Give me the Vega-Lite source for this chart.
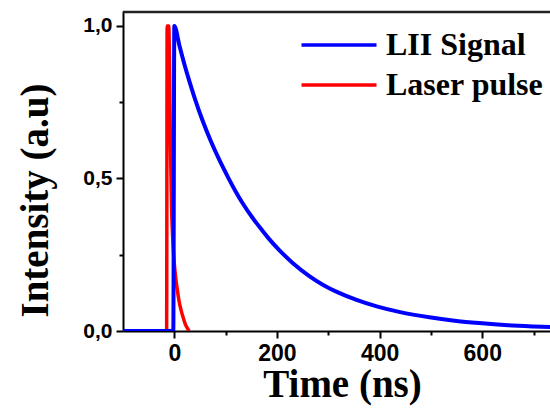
{
  "$schema": "https://vega.github.io/schema/vega-lite/v6.json",
  "width": 427,
  "height": 320,
  "autosize": {"type": "none"},
  "padding": {"left": 123, "top": 11, "right": 0, "bottom": 83},
  "background": "white",
  "config": {"view": {"stroke": null}},
  "datasets": {
    "lines": [
      {"series": "Laser pulse", "t": -25, "v": 0},
      {"series": "Laser pulse", "t": -15, "v": 0},
      {"series": "Laser pulse", "t": -14, "v": 1.0},
      {"series": "Laser pulse", "t": -11, "v": 1.0},
      {"series": "Laser pulse", "t": -7, "v": 0.55},
      {"series": "Laser pulse", "t": -5, "v": 0.38},
      {"series": "Laser pulse", "t": -3, "v": 0.3},
      {"series": "Laser pulse", "t": 0, "v": 0.22},
      {"series": "Laser pulse", "t": 3, "v": 0.17},
      {"series": "Laser pulse", "t": 5, "v": 0.145},
      {"series": "Laser pulse", "t": 9, "v": 0.1},
      {"series": "Laser pulse", "t": 13, "v": 0.069},
      {"series": "Laser pulse", "t": 18, "v": 0.04},
      {"series": "Laser pulse", "t": 22, "v": 0.02},
      {"series": "Laser pulse", "t": 25, "v": 0.01},
      {"series": "Laser pulse", "t": 29, "v": 0},
      {"series": "LII Signal", "t": -100, "v": 0},
      {"series": "LII Signal", "t": -2, "v": 0},
      {"series": "LII Signal", "t": 0, "v": 1.0},
      {"series": "LII Signal", "t": 10, "v": 0.935},
      {"series": "LII Signal", "t": 20, "v": 0.872},
      {"series": "LII Signal", "t": 30, "v": 0.815},
      {"series": "LII Signal", "t": 40, "v": 0.762},
      {"series": "LII Signal", "t": 55, "v": 0.69},
      {"series": "LII Signal", "t": 70, "v": 0.627},
      {"series": "LII Signal", "t": 88, "v": 0.56},
      {"series": "LII Signal", "t": 105, "v": 0.503},
      {"series": "LII Signal", "t": 120, "v": 0.456},
      {"series": "LII Signal", "t": 135, "v": 0.414},
      {"series": "LII Signal", "t": 152, "v": 0.372},
      {"series": "LII Signal", "t": 166, "v": 0.341},
      {"series": "LII Signal", "t": 182, "v": 0.307},
      {"series": "LII Signal", "t": 204, "v": 0.266},
      {"series": "LII Signal", "t": 230, "v": 0.224},
      {"series": "LII Signal", "t": 263, "v": 0.18},
      {"series": "LII Signal", "t": 290, "v": 0.151},
      {"series": "LII Signal", "t": 321, "v": 0.125},
      {"series": "LII Signal", "t": 355, "v": 0.102},
      {"series": "LII Signal", "t": 396, "v": 0.08},
      {"series": "LII Signal", "t": 440, "v": 0.062},
      {"series": "LII Signal", "t": 497, "v": 0.045},
      {"series": "LII Signal", "t": 550, "v": 0.033},
      {"series": "LII Signal", "t": 594, "v": 0.026},
      {"series": "LII Signal", "t": 650, "v": 0.019},
      {"series": "LII Signal", "t": 700, "v": 0.015},
      {"series": "LII Signal", "t": 750, "v": 0.012}
    ]
  },
  "data": {"name": "lines"},
  "layer": [
    {
      "transform": [{"filter": "datum.series === 'Laser pulse'"}],
      "mark": {"type": "line", "strokeWidth": 3.5, "clip": true, "interpolate": "monotone"},
      "encoding": {
        "x": {
          "field": "t", "type": "quantitative",
          "scale": {"domain": [-100, 732], "nice": false, "zero": false},
          "axis": {
            "orient": "bottom",
            "values": [0, 100, 200, 300, 400, 500, 600, 700],
            "labelExpr": "datum.value % 200 === 0 ? format(datum.value, 'd') : ''",
            "tickSize": {"condition": {"test": "datum.value % 200 !== 0", "value": 4}, "value": 7},
            "tickWidth": 2, "tickColor": "black",
            "domainWidth": 2, "domainColor": "black",
            "grid": false, "labelFlush": false, "labelOverlap": false,
            "labelFont": "Liberation Sans", "labelFontWeight": "bold", "labelFontSize": 23, "labelColor": "black",
            "labelPadding": 4,
            "title": "Time (ns)",
            "titleFont": "Liberation Serif", "titleFontWeight": "bold", "titleFontSize": 39, "titleColor": "black",
            "titlePadding": 0, "titleX": 219
          }
        },
        "y": {
          "field": "v", "type": "quantitative",
          "scale": {"domain": [0, 1.049], "nice": false},
          "axis": {
            "values": [0, 0.25, 0.5, 0.75, 1],
            "labelExpr": "(datum.value === 0.25 || datum.value === 0.75) ? '' : replace(format(datum.value, '.1f'), '.', ',')",
            "tickSize": {"condition": {"test": "datum.value === 0.25 || datum.value === 0.75", "value": 4}, "value": 7},
            "tickWidth": 2, "tickColor": "black",
            "domainWidth": 2, "domainColor": "black",
            "grid": false, "labelFlush": false, "labelOverlap": false,
            "labelFont": "Liberation Sans", "labelFontWeight": "bold", "labelFontSize": 21, "labelColor": "black",
            "labelPadding": 4,
            "title": "Intensity (a.u)",
            "titleFont": "Liberation Serif", "titleFontWeight": "bold", "titleFontSize": 39, "titleColor": "black",
            "titleAngle": -90, "titleX": -76, "titleY": 189, "titleAlign": "center", "titleBaseline": "alphabetic"
          }
        },
        "color": {
          "field": "series", "type": "nominal",
          "scale": {"domain": ["LII Signal", "Laser pulse"], "range": ["#0000ff", "#ff0000"]},
          "legend": {
            "title": null, "orient": "none", "legendX": 200, "legendY": 18,
            "symbolType": "M-10,0H10", "symbolSize": 56.25, "symbolStrokeWidth": 3.5,
            "labelFont": "Liberation Serif", "labelFontWeight": "bold", "labelFontSize": 32, "labelColor": "black",
            "labelOffset": 31, "rowPadding": 8, "padding": 0, "labelLimit": 400
          }
        }
      }
    },
    {
      "transform": [{"filter": "datum.series === 'LII Signal'"}],
      "mark": {"type": "line", "strokeWidth": 4, "clip": true, "interpolate": "monotone"},
      "encoding": {
        "x": {"field": "t", "type": "quantitative", "axis": null},
        "y": {"field": "v", "type": "quantitative", "axis": null},
        "color": {"field": "series", "type": "nominal"}
      }
    },
    {
      "data": {"values": [{"top": 1.046, "x0": -100, "x1": 732}]},
      "mark": {"type": "rule", "color": "#222222", "strokeWidth": 2.5},
      "encoding": {
        "x": {"field": "x0", "type": "quantitative", "axis": null},
        "x2": {"field": "x1"},
        "y": {"field": "top", "type": "quantitative", "axis": null}
      }
    }
  ],
  "resolve": {"axis": {"x": "independent", "y": "independent"}}
}
